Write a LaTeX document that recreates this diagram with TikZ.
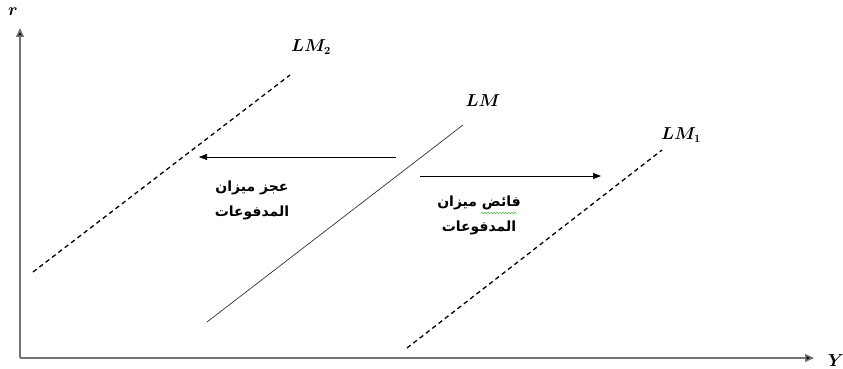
\documentclass[tikz,border=0pt]{standalone}
\usepackage{amsmath}
\usepackage{bm}
\usepackage{fontspec}
\newfontfamily\arabicfont[Script=Arabic]{DejaVu Sans}
\TeXXeTstate=1
\usetikzlibrary{arrows.meta,decorations.pathmorphing}
\begin{document}
\begin{tikzpicture}[x=1pt,y=-1pt,
  axis/.style={draw=black!55,line width=1.6pt,-{Triangle[length=9pt,width=8pt,fill=black]}},
  shiftarrow/.style={draw=black,line width=0.6pt,-{Triangle[length=8pt,width=6pt]}},
  lmdash/.style={draw=black,line width=1.3pt,dash pattern=on 4.5pt off 3.5pt},
  lmsolid/.style={draw=black!80,line width=0.7pt},
  lbl/.style={font=\fontsize{16}{18}\selectfont,inner sep=0pt},
  ar/.style={font=\arabicfont\bfseries\fontsize{14}{16}\selectfont,inner sep=0pt}]
\useasboundingbox (0,0) rectangle (843,369);
\coordinate (O) at (20,358);
\coordinate (ytop) at (20,28);
\coordinate (xend) at (814,358);
\draw[axis] (O) -- (ytop);
\draw[axis] (O) -- (xend);
\node[lbl] (r) at (13,12) {$\bm{r}$};
\node[lbl] (Y) at (836,361) {$\bm{Y}$};
% LM curves
\coordinate (a1) at (33,272); \coordinate (a2) at (290,75);
\coordinate (b1) at (207,322); \coordinate (b2) at (463,125);
\coordinate (c1) at (407,348); \coordinate (c2) at (662,150);
\draw[lmdash] (a1) -- (a2);
\draw[lmsolid] (b1) -- (b2);
\draw[lmdash] (c1) -- (c2);
\node[lbl] (lm2) at (311,47) {$\bm{LM_2}$};
\node[lbl] (lm) at (483,101) {$\bm{LM}$};
\node[lbl] (lm1) at (681,135) {$\bm{LM_1}$};
% shift arrows
\coordinate (l1) at (396,157); \coordinate (l2) at (199,157);
\coordinate (r1) at (420,176); \coordinate (r2) at (601,176);
\draw[shiftarrow] (l1) -- (l2);
\draw[shiftarrow] (r1) -- (r2);
% Arabic labels
\node[ar] (t1) at (252,188) {\beginR عجز ميزان\endR};
\node[ar] (t2) at (252,213) {\beginR المدفوعات\endR};
\node[ar] (t3) at (479,203) {\beginR فائض ميزان\endR};
\node[ar] (t4) at (479,228) {\beginR المدفوعات\endR};
\coordinate (w1) at (481,213); \coordinate (w2) at (517,213);
\draw[green!60!black!70,line width=0.5pt,decorate,decoration={snake,amplitude=0.8pt,segment length=3pt}] (w1) -- (w2);
\end{tikzpicture}
\end{document}
